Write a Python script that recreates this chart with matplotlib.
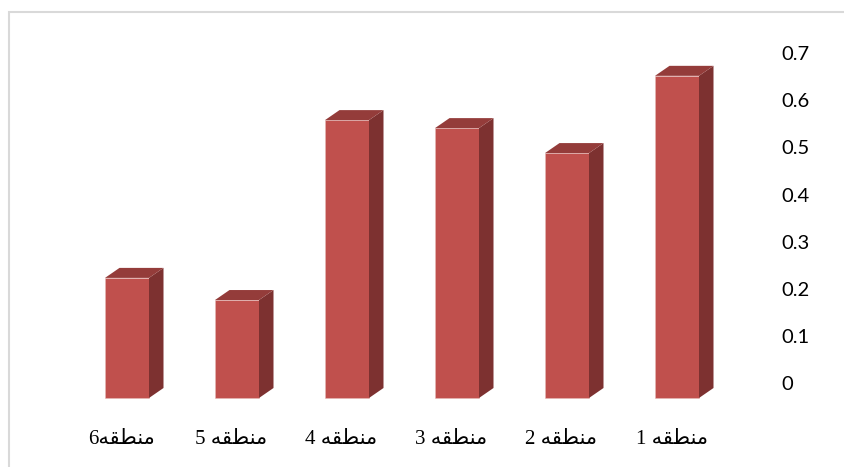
import re
import matplotlib
matplotlib.use("Agg")
import matplotlib.pyplot as plt
from matplotlib.patches import Polygon, Rectangle
from matplotlib.transforms import ScaledTranslation

# ---- data ----
categories = ["منطقه 1", "منطقه 2", "منطقه 3", "منطقه 4", "منطقه 5", "منطقه6"]
values = [0.684, 0.520, 0.573, 0.590, 0.208, 0.255]
y_ticks = [0, 0.1, 0.2, 0.3, 0.4, 0.5, 0.6, 0.7]
y_tick_labels = ["0", "0.1", "0.2", "0.3", "0.4", "0.5", "0.6", "0.7"]

# ---- minimal Arabic shaping for display ----
FORMS = {  # isolated, final, initial, medial
    'م': ('\uFEE1', '\uFEE2', '\uFEE3', '\uFEE4'),
    'ن': ('\uFEE5', '\uFEE6', '\uFEE7', '\uFEE8'),
    'ط': ('\uFEC1', '\uFEC2', '\uFEC3', '\uFEC4'),
    'ق': ('\uFED5', '\uFED6', '\uFED7', '\uFED8'),
    'ه': ('\uFEE9', '\uFEEA', '\uFEEB', '\uFEEC'),
}


def shape_word(w):
    out = []
    n = len(w)
    for j, ch in enumerate(w):
        if ch not in FORMS:
            out.append(ch)
            continue
        prev = j > 0 and w[j - 1] in FORMS
        nxt = j < n - 1 and w[j + 1] in FORMS
        if prev and nxt:
            out.append(FORMS[ch][3])
        elif prev:
            out.append(FORMS[ch][1])
        elif nxt:
            out.append(FORMS[ch][2])
        else:
            out.append(FORMS[ch][0])
    return "".join(reversed(out))


def rtl_display(s):
    runs = re.findall(r'[\u0600-\u06FF]+|\d+|\s+|[^\u0600-\u06FF\d\s]+', s)
    vis = []
    for r in reversed(runs):
        if re.match(r'[\u0600-\u06FF]', r):
            vis.append(shape_word(r))
        else:
            vis.append(r)
    return "".join(vis)


# ---- figure ----
W, H, DPI = 844, 467, 100
fig = plt.figure(figsize=(W / DPI, H / DPI), dpi=DPI)
fig.patch.set_facecolor("white")

# frame (left and top border of the chart area)
fig.add_artist(Rectangle((9 / W, -0.1), 1.2, (H - 12) / H + 0.1,
                         transform=fig.transFigure, fill=False,
                         edgecolor="#D9D9D9", linewidth=1.5))

# axes geometry in pixels
L, R = 10, 770
T, B = 20, 405
PX_X = 110.0      # px per category
PX_Y = 471.0      # px per value unit
X0_PX = 127.0     # px of first (leftmost) bar front center
Y0_PX = 388.0     # px (from top) of value zero (back floor)

ax = fig.add_axes([L / W, (H - B) / H, (R - L) / W, (B - T) / H])
xa = -(X0_PX - L) / PX_X
xb = xa + (R - L) / PX_X
ax.set_xlim(xa, xb)
ax.set_ylim(-(B - Y0_PX) / PX_Y, (Y0_PX - T) / PX_Y)
for s in ax.spines.values():
    s.set_visible(False)
ax.set_facecolor("none")

# 3D depth in data units
DX = 14.5 / PX_X
DY = 10.0 / PX_Y
BW = 44.0 / PX_X

FRONT = "#C0504D"
SIDE = "#7D3130"
TOP = "#943C3A"

n = len(categories)
positions = [n - 1 - k for k in range(n)]
for pos, v in zip(positions, values):
    x0, x1 = pos - BW / 2, pos + BW / 2
    front = Polygon([(x0, -DY), (x1, -DY), (x1, v - DY), (x0, v - DY)],
                    closed=True, facecolor=FRONT, edgecolor="#E6B9B8",
                    linewidth=0.4)
    side = Polygon([(x1, -DY), (x1 + DX, 0), (x1 + DX, v), (x1, v - DY)],
                   closed=True, facecolor=SIDE, edgecolor="none")
    top = Polygon([(x0, v - DY), (x1, v - DY), (x1 + DX, v), (x0 + DX, v)],
                  closed=True, facecolor=TOP, edgecolor="none")
    for p in (front, side, top):
        ax.add_patch(p)

# x tick labels (categories)
ax.set_xticks([p - 0.05 for p in positions])
ax.set_xticklabels([rtl_display(c) for c in categories],
                   fontfamily=["Liberation Serif", "DejaVu Sans"], fontsize=15)
ax.tick_params(axis="x", length=0, pad=18)

# y tick labels on the right
ax.yaxis.tick_right()
ax.set_yticks(y_ticks)
ax.set_yticklabels(y_tick_labels, fontfamily="Lato", fontsize=14.5)
ax.tick_params(axis="y", length=0, pad=8, right=False, left=False)
off = ScaledTranslation(0, 5 / DPI, fig.dpi_scale_trans)
for lab in ax.get_yticklabels():
    lab.set_transform(lab.get_transform() + off)

fig.savefig("out.png", dpi=DPI)
